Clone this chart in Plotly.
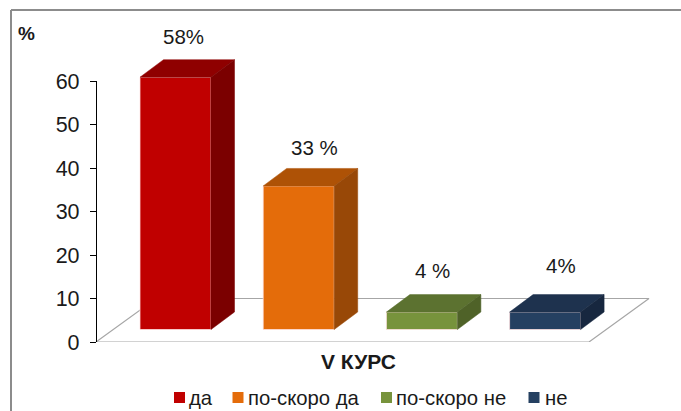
import plotly.graph_objects as go

W, H = 681, 411

categories = ["да", "по-скоро да", "по-скоро не", "не"]
values = [58, 33, 4, 4]
label_texts = ["58%", "33 %", "4 %", "4%"]
y_ticks = [0, 10, 20, 30, 40, 50, 60]

front_colors = ["#c00000", "#e46c0a", "#77933c", "#254061"]
top_colors = ["#8f0000", "#ae5206", "#5c7230", "#1e324e"]
side_colors = ["#7b0000", "#984807", "#4f6228", "#17273f"]

FONT = "Liberation Sans, Arial, sans-serif"
TEXT = "#1a1a1a"

# pixel layout
PX_PER_CAT = 123.2
X0_PX = 175.5
PX_PER_UNIT = 4.35
AXIS_X = 96
Y0_PX, Y60_PX = 342, 81
BASE_PX = 329.5
DEPTH_X_PX, DEPTH_Y_PX = 23.5, 17.5
BAR_W = 71 / PX_PER_CAT
DX = DEPTH_X_PX / PX_PER_CAT
DY = DEPTH_Y_PX / PX_PER_UNIT


def cat_x(px):
    return (px - X0_PX) / PX_PER_CAT


fig = go.Figure()

# floor of the 3D box, on the tick axis
floor_x = [cat_x(AXIS_X), cat_x(589), cat_x(649), cat_x(156), cat_x(AXIS_X)]
floor_y = [0, 0, 10, 10, 0]
fig.add_trace(go.Scatter(x=floor_x, y=floor_y, mode="lines", yaxis="y",
                         line=dict(color="#a6a6a6", width=1.2), cliponaxis=False,
                         hoverinfo="skip", showlegend=False))

# front faces
for i, (name, v) in enumerate(zip(categories, values)):
    fig.add_trace(go.Bar(x=[i], y=[v], width=BAR_W, name=name, yaxis="y2",
                         marker=dict(color=front_colors[i],
                                     line=dict(color="rgba(255,225,225,0.75)", width=1)),
                         showlegend=False))

# top and side faces, derived from the values
for i, v in enumerate(values):
    l, r = i - BAR_W / 2, i + BAR_W / 2
    fig.add_trace(go.Scatter(x=[l, l + DX, r + DX, r, l], y=[v, v + DY, v + DY, v, v],
                             fill="toself", fillcolor=top_colors[i], mode="lines",
                             line=dict(color=top_colors[i], width=0.5), yaxis="y2",
                             hoverinfo="skip", showlegend=False))
    fig.add_trace(go.Scatter(x=[r, r + DX, r + DX, r, r], y=[0, DY, v + DY, v, 0],
                             fill="toself", fillcolor=side_colors[i], mode="lines",
                             line=dict(color=side_colors[i], width=0.5), yaxis="y2",
                             hoverinfo="skip", showlegend=False))

annotations = []
# data labels
label_shift_x = [8, 16, 11, 16]
label_shift_y = [41, 38, 42, 47]
for i, v in enumerate(values):
    annotations.append(dict(x=i, y=v, xref="x", yref="y2", text=label_texts[i],
                            showarrow=False, xshift=label_shift_x[i], yshift=label_shift_y[i],
                            xanchor="center", yanchor="middle",
                            font=dict(family=FONT, size=20.5, color=TEXT)))


def paper(px, py, xanchor="center", **kw):
    return dict(x=px / W, y=1 - py / H, xref="paper", yref="paper", showarrow=False,
                xanchor=xanchor, yanchor="middle", **kw)


annotations.append(paper(16, 33, xanchor="left", text="<b>%</b>",
                         font=dict(family=FONT, size=19, color=TEXT)))
annotations.append(paper(358, 361, text="<b>V КУРС</b>",
                         font=dict(family=FONT, size=21, color=TEXT)))

# legend row
legend_swatch_x = [174, 232.5, 381, 528.5]
legend_text_x = [187, 246, 394, 543]
shapes = []
for i, name in enumerate(categories):
    annotations.append(paper(legend_text_x[i], 398, xanchor="left", text=name,
                             font=dict(family=FONT, size=20.3, color=TEXT)))
    shapes.append(dict(type="rect", xref="paper", yref="paper",
                       x0=legend_swatch_x[i] / W, x1=(legend_swatch_x[i] + 11) / W,
                       y0=1 - 403 / H, y1=1 - 392 / H,
                       fillcolor=front_colors[i], line=dict(width=0)))

# frame
for x0, y0, x1, y1 in [(11, 10, 681, 10), (11, 10, 11, 411)]:
    shapes.append(dict(type="line", xref="paper", yref="paper",
                       x0=x0 / W, x1=x1 / W, y0=1 - y0 / H, y1=1 - y1 / H,
                       line=dict(color="#8c8c8c", width=2)))

fig.update_layout(
    width=W, height=H, autosize=False,
    margin=dict(l=0, r=0, t=0, b=0, pad=0, autoexpand=False),
    paper_bgcolor="white", plot_bgcolor="rgba(0,0,0,0)",
    showlegend=False,
    annotations=annotations, shapes=shapes,
    xaxis=dict(range=[cat_x(0), cat_x(W)], domain=[0, 1], visible=False, fixedrange=True,
               automargin=False),
    yaxis=dict(domain=[1 - Y0_PX / H, 1 - Y60_PX / H], range=[0, 60],
               anchor="free", position=AXIS_X / W, side="left", automargin=False,
               tickvals=y_ticks, ticks="outside", ticklen=6, tickwidth=1.3,
               ticklabelstandoff=6,
               tickcolor="#000000", showline=True, linecolor="#000000", linewidth=1.3,
               showgrid=False, zeroline=False, fixedrange=True,
               tickfont=dict(family=FONT, size=21.5, color=TEXT)),
    yaxis2=dict(domain=[0, 1], range=[(BASE_PX - H) / PX_PER_UNIT, BASE_PX / PX_PER_UNIT],
                anchor="x", visible=False, fixedrange=True, automargin=False),
)

fig.write_html("out.html", config=dict(displayModeBar=False),
               post_script="document.body.style.margin='0';"
                           "document.documentElement.style.overflow='hidden';")
